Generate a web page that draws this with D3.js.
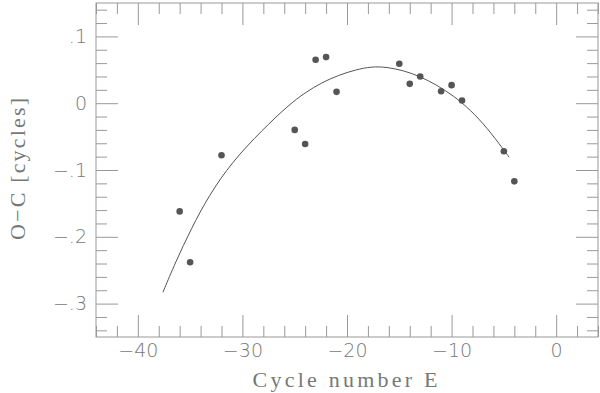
<!DOCTYPE html>
<html>
<head>
<meta charset="utf-8">
<script src="https://cdn.jsdelivr.net/npm/d3@7"></script>
<style>
  body { margin: 0; background: #fff; }
  svg { display: block; }
</style>
</head>
<body>
<svg width="600" height="393"></svg>
<script>
// observed O-C timings
const cycleE = [-36, -35, -32, -25, -24, -23, -22, -21, -15, -14, -13, -11, -10, -9, -5, -4];
const ocCycles = [-0.162, -0.238, -0.078, -0.040, -0.061, 0.065, 0.069, 0.017,
  0.059, 0.029, 0.040, 0.018, 0.027, 0.004, -0.072, -0.117];

// fitted curve
const fitE = [-37.6, -36.4, -34.9, -33.2, -31, -28.1, -25.6, -24, -22.4, -20.8, -19.2, -17.6,
  -16.2, -14.6, -13, -11.4, -9.8, -8.2, -6.6, -5, -4.5];
const fitOC = [-0.283, -0.238, -0.188, -0.138, -0.088, -0.040, -0.003, 0.016, 0.031, 0.042, 0.050, 0.055,
  0.054, 0.049, 0.040, 0.027, 0.011, -0.010, -0.037, -0.070, -0.081];

const xTicks = [-40, -30, -20, -10, 0];
const xTickLabels = ['\u221240', '\u221230', '\u221220', '\u221210', '0'];
const yTicks = [-0.3, -0.2, -0.1, 0, 0.1];
const yTickLabels = ['\u2212.3', '\u2212.2', '\u2212.1', '0', '.1'];

const margin = {top: 3, right: 2, bottom: 56, left: 96};
const svg = d3.select('svg');
const width = +svg.attr('width') - margin.left - margin.right;
const height = +svg.attr('height') - margin.top - margin.bottom;

const g = svg.append('g')
  .attr('transform', 'translate(' + margin.left + ',' + margin.top + ')');

const x = d3.scaleLinear().domain([-44, 4]).range([0, width]);
const y = d3.scaleLinear().domain([-0.35, 0.15]).range([height, 0]);

const axisColor = '#999';
const textColor = '#777';
const majorLen = 22;
const minorLen = 11;

const xMinor = d3.range(-44, 4.01, 2).filter(v => xTicks.indexOf(v) < 0);
const yMinor = d3.range(-34, 15, 2).map(v => v / 100).filter(v => !yTicks.some(t => Math.abs(t - v) < 1e-9));

function styleAxis(sel) {
  sel.select('.domain').remove();
  sel.selectAll('line').attr('stroke', axisColor);
  sel.selectAll('text')
    .attr('fill', textColor)
    .style('font-family', 'DejaVu Sans, sans-serif')
    .style('font-weight', 200)
    .style('font-size', '19px');
}

// bottom
g.append('g').attr('transform', 'translate(0,' + height + ')')
  .call(d3.axisBottom(x).tickValues(xTicks).tickSizeInner(-majorLen).tickSizeOuter(0)
    .tickPadding(7).tickFormat((d, i) => xTickLabels[i]))
  .call(styleAxis);
g.append('g').attr('transform', 'translate(0,' + height + ')')
  .call(d3.axisBottom(x).tickValues(xMinor).tickSizeInner(-minorLen).tickSizeOuter(0).tickFormat(''))
  .call(styleAxis);
// top
g.append('g')
  .call(d3.axisTop(x).tickValues(xTicks).tickSizeInner(-majorLen).tickSizeOuter(0).tickFormat(''))
  .call(styleAxis);
g.append('g')
  .call(d3.axisTop(x).tickValues(xMinor).tickSizeInner(-minorLen).tickSizeOuter(0).tickFormat(''))
  .call(styleAxis);
// left
g.append('g')
  .call(d3.axisLeft(y).tickValues(yTicks).tickSizeInner(-majorLen).tickSizeOuter(0)
    .tickPadding(9).tickFormat((d, i) => yTickLabels[i]))
  .call(styleAxis);
g.append('g')
  .call(d3.axisLeft(y).tickValues(yMinor).tickSizeInner(-minorLen).tickSizeOuter(0).tickFormat(''))
  .call(styleAxis);
// right
g.append('g').attr('transform', 'translate(' + width + ',0)')
  .call(d3.axisRight(y).tickValues(yTicks).tickSizeInner(-majorLen).tickSizeOuter(0).tickFormat(''))
  .call(styleAxis);
g.append('g').attr('transform', 'translate(' + width + ',0)')
  .call(d3.axisRight(y).tickValues(yMinor).tickSizeInner(-minorLen).tickSizeOuter(0).tickFormat(''))
  .call(styleAxis);

g.append('rect')
  .attr('width', width)
  .attr('height', height)
  .attr('fill', 'none')
  .attr('stroke', axisColor)
  .attr('stroke-width', 1);

// fit curve
const line = d3.line()
  .x((d, i) => x(fitE[i]))
  .y(d => y(d))
  .curve(d3.curveBasis);

g.append('path')
  .datum(fitOC)
  .attr('fill', 'none')
  .attr('stroke', '#555')
  .attr('stroke-width', 1)
  .attr('d', line);

// points
g.selectAll('circle.pt')
  .data(ocCycles)
  .enter().append('circle')
  .attr('class', 'pt')
  .attr('cx', (d, i) => x(cycleE[i]))
  .attr('cy', d => y(d))
  .attr('r', 3.3)
  .attr('fill', '#555');

// axis titles
svg.append('text')
  .attr('x', margin.left + x(-20) - 2)
  .attr('y', 387)
  .attr('text-anchor', 'middle')
  .attr('fill', textColor)
  .attr('textLength', 185)
  .attr('lengthAdjust', 'spacing')
  .style('font-family', 'Liberation Serif, serif')
  .style('font-size', '22px')
  .text('Cycle number E');

svg.append('text')
  .attr('transform', 'translate(25,169) rotate(-90)')
  .attr('text-anchor', 'middle')
  .attr('fill', textColor)
  .attr('textLength', 142)
  .attr('lengthAdjust', 'spacing')
  .style('font-family', 'Liberation Serif, serif')
  .style('font-size', '22px')
  .text('O\u2212C [cycles]');
</script>
</body>
</html>
